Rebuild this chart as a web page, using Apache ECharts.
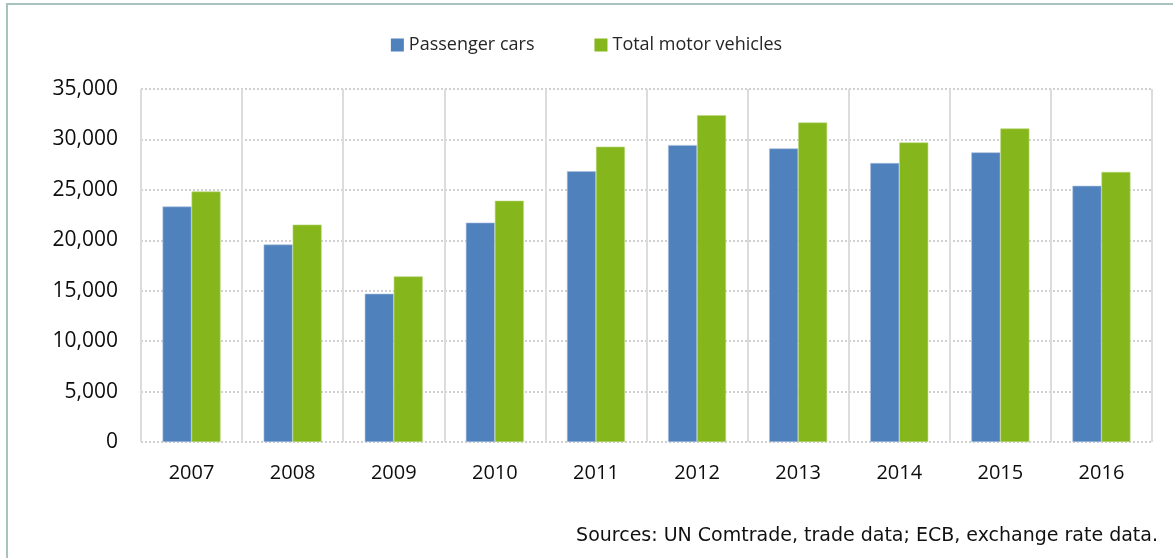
<!DOCTYPE html>
<html>
<head>
<meta charset="utf-8">
<style>
  html, body { margin: 0; padding: 0; background: #fff; }
  #frame {
    position: absolute; left: 6px; top: 3px; width: 1200px; height: 600px;
    border: 2px solid #a8c2be; box-sizing: border-box;
  }
  #chart-container { position: absolute; left: 0; top: 0; width: 1173px; height: 558px; }
</style>
<script src="https://cdn.jsdelivr.net/npm/echarts@6/dist/echarts.min.js"></script>
</head>
<body>
<div id="frame"></div>
<div id="chart-container"></div>
<script>
var years = ['2007', '2008', '2009', '2010', '2011', '2012', '2013', '2014', '2015', '2016'];
var passengerCars = [23350, 19580, 14700, 21750, 26840, 29440, 29110, 27660, 28720, 25400];
var totalMotorVehicles = [24830, 21550, 16420, 23920, 29280, 32400, 31680, 29700, 31090, 26780];
var yTicks = [0, 5000, 10000, 15000, 20000, 25000, 30000, 35000];

var dom = document.getElementById('chart-container');
var myChart = echarts.init(dom, null, { renderer: 'canvas' });

var option = {
    animation: false,
    legend: {
        top: 31,
        left: 'center',
        itemWidth: 13,
        itemHeight: 13,
        itemGap: 60,
        icon: 'rect',
        itemStyle: { borderWidth: 0 },
        textStyle: { fontFamily: 'Open Sans', fontSize: 18, color: '#262626' },
        data: ['Passenger cars', 'Total motor vehicles']
    },
    grid: { left: 141, right: 21, top: 89, bottom: 116 },
    xAxis: {
        type: 'category',
        data: years,
        axisLine: { show: false },
        axisTick: { show: false },
        axisLabel: { fontFamily: 'Open Sans', fontSize: 20, color: '#0d0d0d', margin: 21 },
        splitLine: { show: true, lineStyle: { color: '#dcdcdc', width: 2 } }
    },
    yAxis: {
        type: 'value',
        min: yTicks[0],
        max: yTicks[yTicks.length - 1],
        interval: 5000,
        axisLine: { show: false },
        axisTick: { show: false },
        axisLabel: {
            fontFamily: 'Open Sans', fontSize: 21, color: '#0d0d0d', margin: 23,
            formatter: function (v) { return v.toLocaleString('en-US'); }
        },
        splitLine: { lineStyle: { color: '#d0d0d0', width: 2, type: [2, 2] } }
    },
    series: [
        {
            name: 'Passenger cars',
            type: 'bar',
            data: passengerCars,
            barWidth: 29,
            barGap: '0%',
            itemStyle: { color: '#4f81bd', borderColor: '#a9c0de', borderWidth: 0.6 }
        },
        {
            name: 'Total motor vehicles',
            type: 'bar',
            data: totalMotorVehicles,
            barWidth: 29,
            barGap: '0%',
            itemStyle: { color: '#85b61b', borderColor: '#b9d67c', borderWidth: 0.6 }
        }
    ],
    graphic: [
        {
            type: 'text',
            right: 15,
            top: 527,
            style: {
                text: 'Sources: UN Comtrade, trade data; ECB, exchange rate data.',
                fontFamily: 'DejaVu Sans',
                fontSize: 19,
                fill: '#111'
            }
        }
    ]
};

myChart.setOption(option);
</script>
</body>
</html>
